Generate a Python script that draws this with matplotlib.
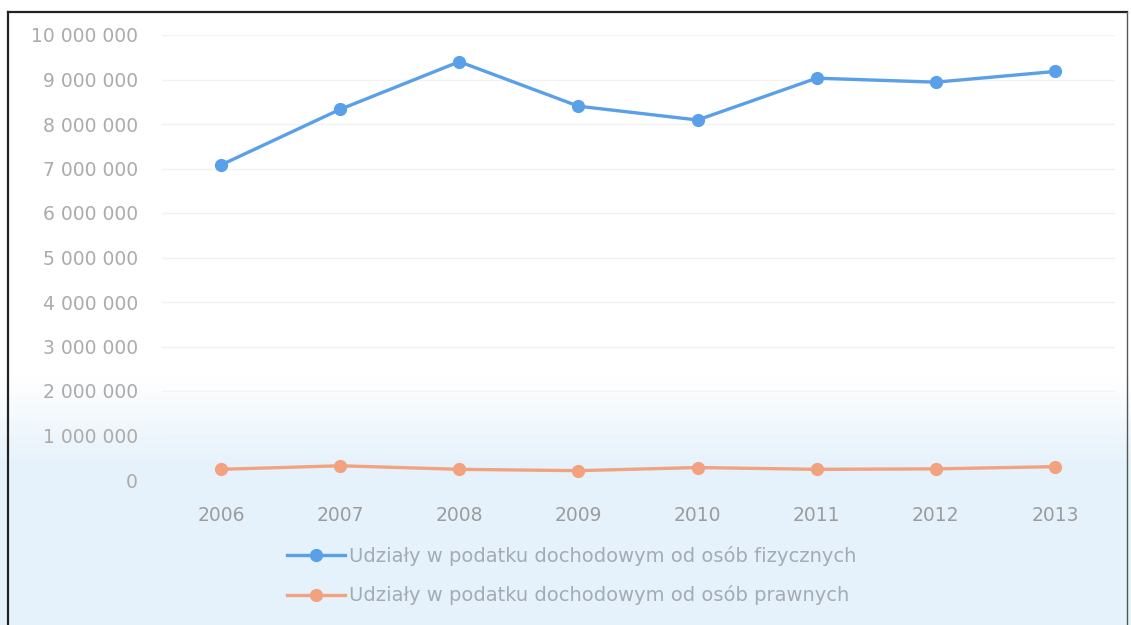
import numpy as np
import matplotlib.pyplot as plt
from matplotlib.ticker import FuncFormatter
from matplotlib.lines import Line2D

# data
years = ["2006", "2007", "2008", "2009", "2010", "2011", "2012", "2013"]
fizyczne = [7080000, 8330000, 9400000, 8400000, 8090000, 9030000, 8940000, 9180000]
prawne = [240000, 320000, 240000, 210000, 280000, 240000, 250000, 300000]
label_fiz = "Udziały w podatku dochodowym od osób fizycznych"
label_praw = "Udziały w podatku dochodowym od osób prawnych"

plt.rcParams['font.family'] = ['DejaVu Sans']

fig = plt.figure(figsize=(11.31, 6.25), dpi=100)

# faint blue wash of the scan in the lower part
bg = fig.add_axes([0, 0, 1, 1], zorder=0)
h = 625
rows = np.arange(h)
alpha = np.clip((rows - 375) / 90.0, 0, 1) * 0.5
img = np.ones((h, 1, 4))
img[:, 0, 0] = 0.80
img[:, 0, 1] = 0.90
img[:, 0, 2] = 0.97
img[:, 0, 3] = alpha
bg.imshow(img, aspect='auto', extent=[0, 1, 0, 1], origin='upper')
bg.set_xlim(0, 1)
bg.set_ylim(0, 1)
bg.axis('off')

# scan frame
bg.plot([8 / 1131, 8 / 1131], [0, 1 - 12 / 625], color='#222222', lw=1.6)
bg.plot([8 / 1131, 1127 / 1131], [1 - 12 / 625, 1 - 12 / 625], color='#222222', lw=1.6)
bg.plot([1127 / 1131, 1127 / 1131], [0, 1 - 12 / 625], color='#555555', lw=1.0)

ax = fig.add_axes([161.5 / 1131, 1 - 480 / 625, (1114.5 - 161.5) / 1131, 445 / 625], zorder=1)
ax.patch.set_alpha(0)

x = np.arange(len(years))
ax.plot(x, fizyczne, color='#5aa0e8', lw=2.4, marker='o', ms=8.5, label=label_fiz)
ax.plot(x, prawne, color='#f2a27e', lw=2.4, marker='o', ms=8.5, label=label_praw)

ax.set_xlim(-0.5, len(years) - 0.5)
ax.set_ylim(0, 10000000)
ax.set_yticks(np.arange(0, 10000001, 1000000))
ax.yaxis.set_major_formatter(FuncFormatter(lambda v, p: f"{int(v):,}".replace(",", " ")))
ax.set_xticks(x)
ax.set_xticklabels(years)
ax.grid(axis='y', color='#f0f3f6', lw=1.0)
ax.set_axisbelow(True)
for s in ax.spines.values():
    s.set_visible(False)
ax.tick_params(axis='both', length=0, labelsize=13.5)
ax.tick_params(axis='y', pad=17, colors='#ababab')
ax.tick_params(axis='x', pad=19, colors='#9c9c9c')

handles = [Line2D([], [], color='#5aa0e8', lw=2.4, marker='o', ms=8.5),
           Line2D([], [], color='#f2a27e', lw=2.4, marker='o', ms=8.5)]
leg = fig.legend(handles, [label_fiz, label_praw], loc='upper left',
                 bbox_to_anchor=(287 / 1131, 1 - 546 / 625), frameon=False,
                 borderpad=0, borderaxespad=0,
                 fontsize=14, labelspacing=1.0, handlelength=3.0, handletextpad=0.2)
for t in leg.get_texts():
    t.set_color('#a4abb2')

fig.savefig("out.png", dpi=100)
